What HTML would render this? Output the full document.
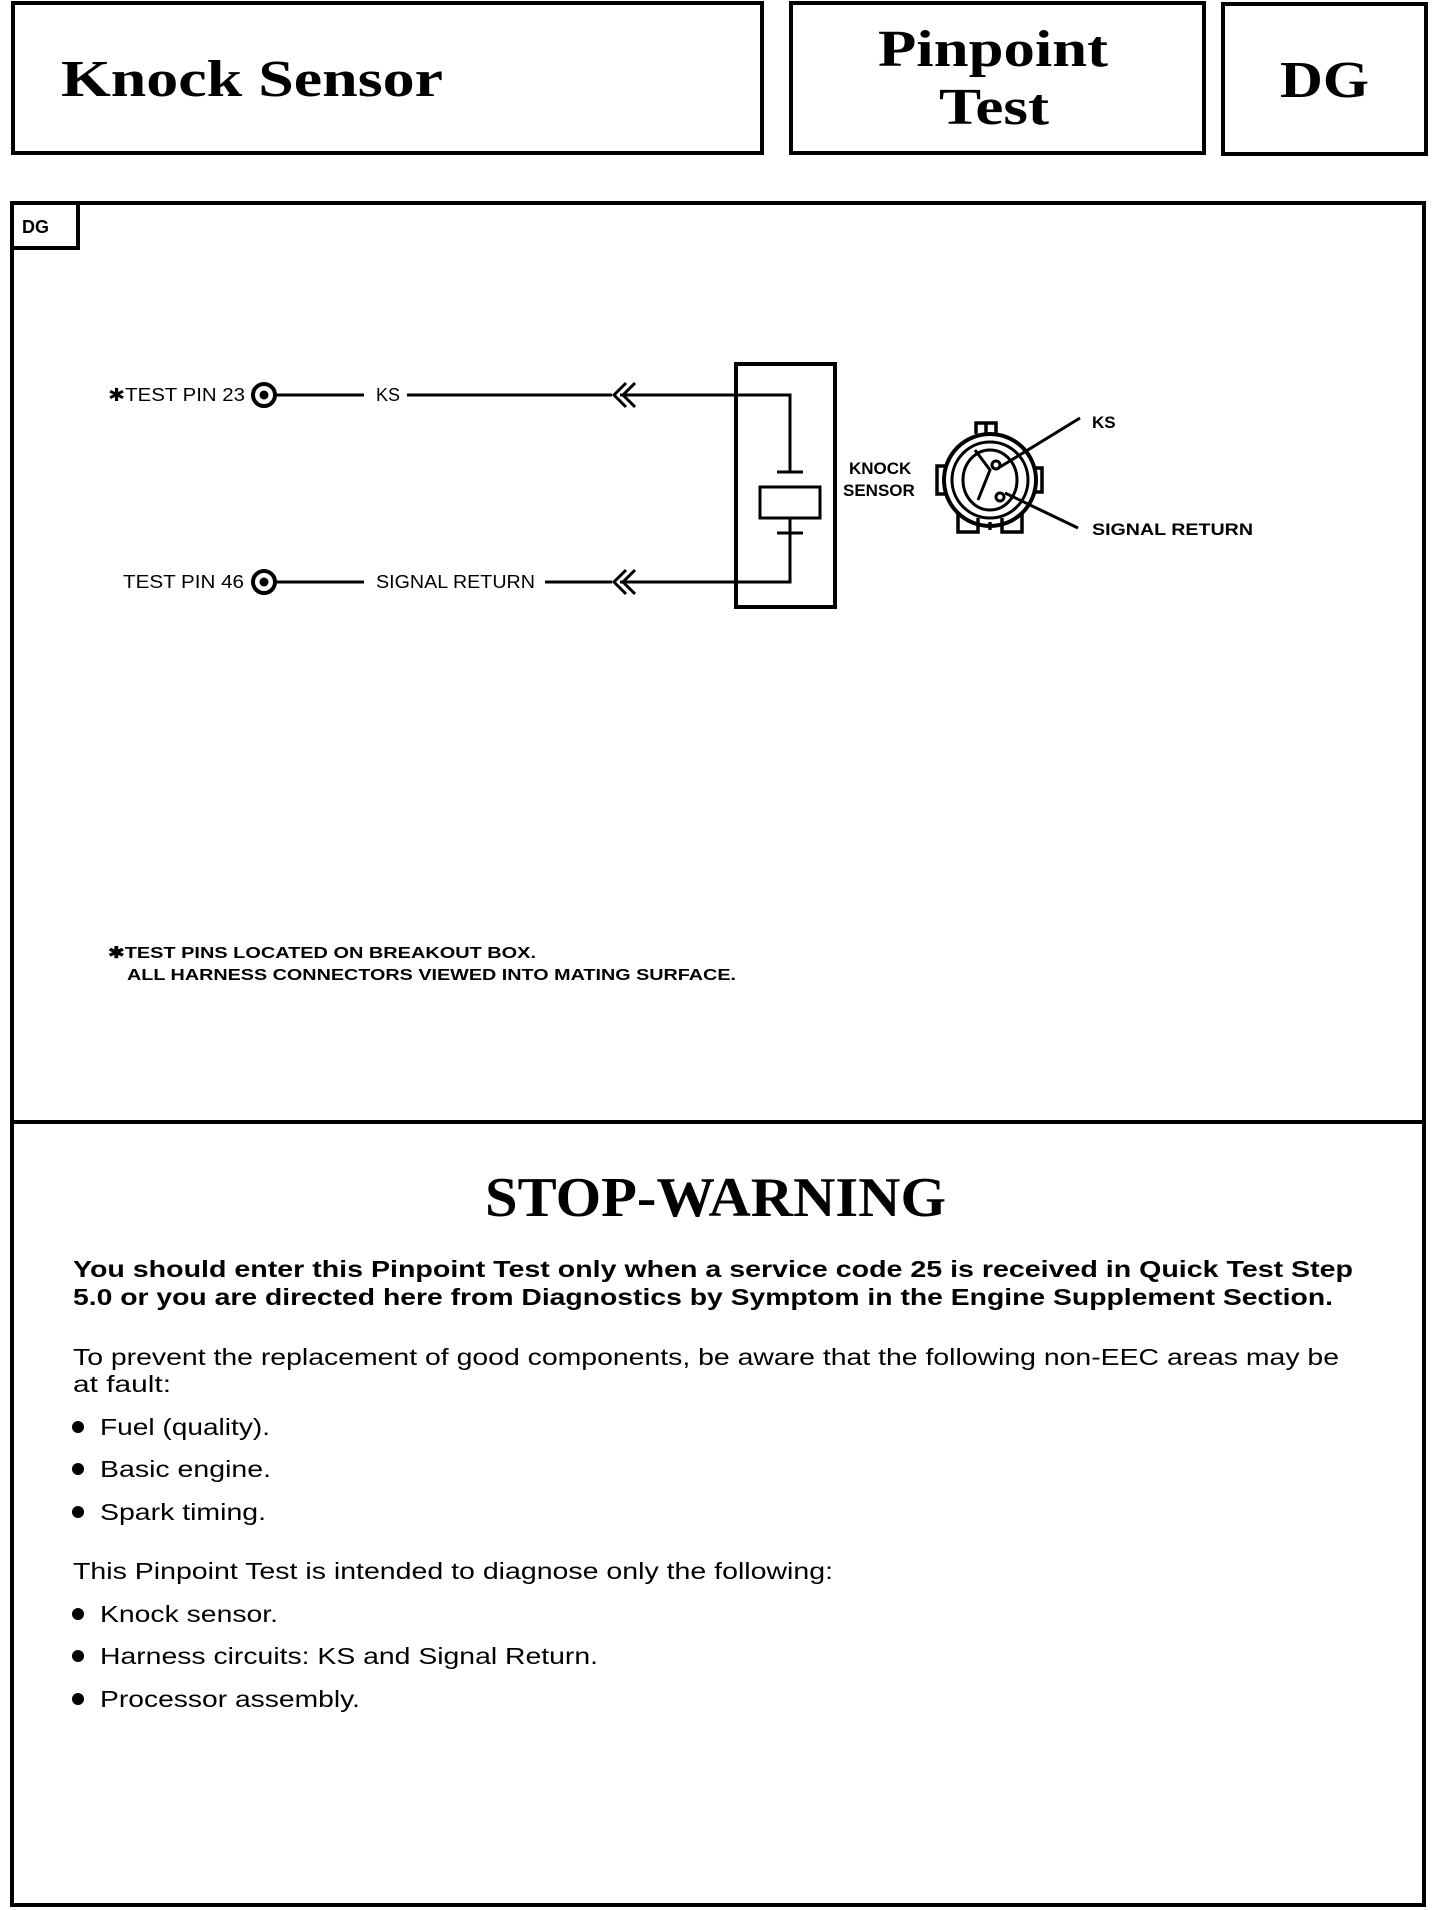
<!DOCTYPE html>
<html><head><meta charset="utf-8"><style>
html,body{margin:0;padding:0;background:#fff;}
svg{display:block}
.s{font-family:"Liberation Sans",sans-serif;}
.r{font-family:"Liberation Serif",serif;font-weight:bold;}
</style></head><body>
<svg width="1440" height="1910" viewBox="0 0 1440 1910" xmlns="http://www.w3.org/2000/svg">
<g fill="none" stroke="#000" stroke-width="4">
<rect x="13" y="3" width="749" height="150"/>
<rect x="791" y="3" width="413" height="150"/>
<rect x="1223" y="4" width="203" height="150"/>
<rect x="12" y="203" width="1412" height="1702"/>
<line x1="12" y1="1122" x2="1424" y2="1122"/>
<path d="M12 248 H78 V203"/>
</g>
<text class="r" x="61" y="96" font-size="52" textLength="382" lengthAdjust="spacingAndGlyphs">Knock Sensor</text>
<text class="r" x="878" y="66" font-size="52" textLength="230" lengthAdjust="spacingAndGlyphs">Pinpoint</text>
<text class="r" x="939" y="124" font-size="52" textLength="110" lengthAdjust="spacingAndGlyphs">Test</text>
<text class="r" x="1280" y="97" font-size="52" textLength="89" lengthAdjust="spacingAndGlyphs">DG</text>
<text class="s" x="22" y="233" font-size="18" font-weight="bold">DG</text>

<g fill="none" stroke="#000" stroke-width="3">
<circle cx="264" cy="395" r="11" stroke-width="4"/>
<circle cx="264" cy="582" r="11" stroke-width="4"/>
<line x1="276" y1="395" x2="364" y2="395"/>
<line x1="407" y1="395" x2="612" y2="395"/>
<path d="M620 395 H790 V472"/>
<line x1="276" y1="582" x2="364" y2="582"/>
<line x1="545" y1="582" x2="612" y2="582"/>
<path d="M620 582 H790 V518"/>
<path d="M626 383 L614 395 L626 407 M635 383 L623 395 L635 407"/>
<path d="M626 570 L614 582 L626 594 M635 570 L623 582 L635 594"/>
<rect x="736" y="364" width="99" height="243" stroke-width="4"/>
<line x1="777" y1="472" x2="803" y2="472"/>
<rect x="760" y="487" width="60" height="31"/>
<line x1="777" y1="533" x2="803" y2="533"/>
<circle cx="990" cy="480" r="46" stroke-width="4"/>
<circle cx="990" cy="480" r="38"/>
<ellipse cx="990" cy="480" rx="27" ry="30"/>
<path d="M975 450 L990 470 L978 500" />
<circle cx="996" cy="465" r="4"/><circle cx="1000" cy="497" r="4"/>
<path d="M976 434 V423 H986 V434 M996 434 V423 H986" stroke-width="3.5"/>
<path d="M946 466 H937 V494 H946" stroke-width="3.5"/>
<path d="M1034 468 H1042 V492 H1034" stroke-width="3.5"/>
<path d="M958 514 V532 H978 V518 M990 522 V530 M1002 518 V532 H1022 V514" stroke-width="3.5"/>
<line x1="1000" y1="467" x2="1080" y2="418"/>
<line x1="1005" y1="493" x2="1078" y2="528"/>
</g>
<circle cx="264" cy="395" r="4.5"/><circle cx="264" cy="582" r="4.5"/>
<g class="s" font-size="18">
<text x="108" y="401" textLength="137" lengthAdjust="spacingAndGlyphs">✱TEST PIN 23</text>
<text x="376" y="401">KS</text>
<text x="123" y="588" textLength="121" lengthAdjust="spacingAndGlyphs">TEST PIN 46</text>
<text x="376" y="588" textLength="159" lengthAdjust="spacingAndGlyphs">SIGNAL RETURN</text>
<text x="849" y="474" font-weight="bold" font-size="17">KNOCK</text>
<text x="843" y="496" font-weight="bold" font-size="17">SENSOR</text>
<text x="1092" y="428" font-weight="bold" font-size="17">KS</text>
<text x="1092" y="535" font-weight="bold" font-size="17" textLength="161" lengthAdjust="spacingAndGlyphs">SIGNAL RETURN</text>
</g>
<g class="s" font-size="16" font-weight="bold">
<text x="108" y="958" textLength="428" lengthAdjust="spacingAndGlyphs">✱TEST PINS LOCATED ON BREAKOUT BOX.</text>
<text x="127" y="980" textLength="609" lengthAdjust="spacingAndGlyphs">ALL HARNESS CONNECTORS VIEWED INTO MATING SURFACE.</text>
</g>
<text class="r" x="485" y="1216" font-size="56" textLength="461" lengthAdjust="spacingAndGlyphs">STOP-WARNING</text>
<g class="s" font-size="23">
<text x="73" y="1277" font-weight="bold" textLength="1280" lengthAdjust="spacingAndGlyphs">You should enter this Pinpoint Test only when a service code 25 is received in Quick Test Step</text>
<text x="73" y="1305" font-weight="bold" textLength="1260" lengthAdjust="spacingAndGlyphs">5.0 or you are directed here from Diagnostics by Symptom in the Engine Supplement Section.</text>
<text x="73" y="1365" textLength="1266" lengthAdjust="spacingAndGlyphs">To prevent the replacement of good components, be aware that the following non-EEC areas may be</text>
<text x="73" y="1392" textLength="98" lengthAdjust="spacingAndGlyphs">at fault:</text>
<text x="100" y="1435" textLength="170" lengthAdjust="spacingAndGlyphs">Fuel (quality).</text>
<text x="100" y="1477" textLength="171" lengthAdjust="spacingAndGlyphs">Basic engine.</text>
<text x="100" y="1520" textLength="166" lengthAdjust="spacingAndGlyphs">Spark timing.</text>
<text x="73" y="1579" textLength="760" lengthAdjust="spacingAndGlyphs">This Pinpoint Test is intended to diagnose only the following:</text>
<text x="100" y="1622" textLength="178" lengthAdjust="spacingAndGlyphs">Knock sensor.</text>
<text x="100" y="1664" textLength="498" lengthAdjust="spacingAndGlyphs">Harness circuits: KS and Signal Return.</text>
<text x="100" y="1707" textLength="260" lengthAdjust="spacingAndGlyphs">Processor assembly.</text>
</g>
<g fill="#000">
<circle cx="78" cy="1427" r="6"/><circle cx="78" cy="1469" r="6"/><circle cx="78" cy="1512" r="6"/>
<circle cx="78" cy="1614" r="6"/><circle cx="78" cy="1656" r="6"/><circle cx="78" cy="1699" r="6"/>
</g>
</svg>
</body></html>
